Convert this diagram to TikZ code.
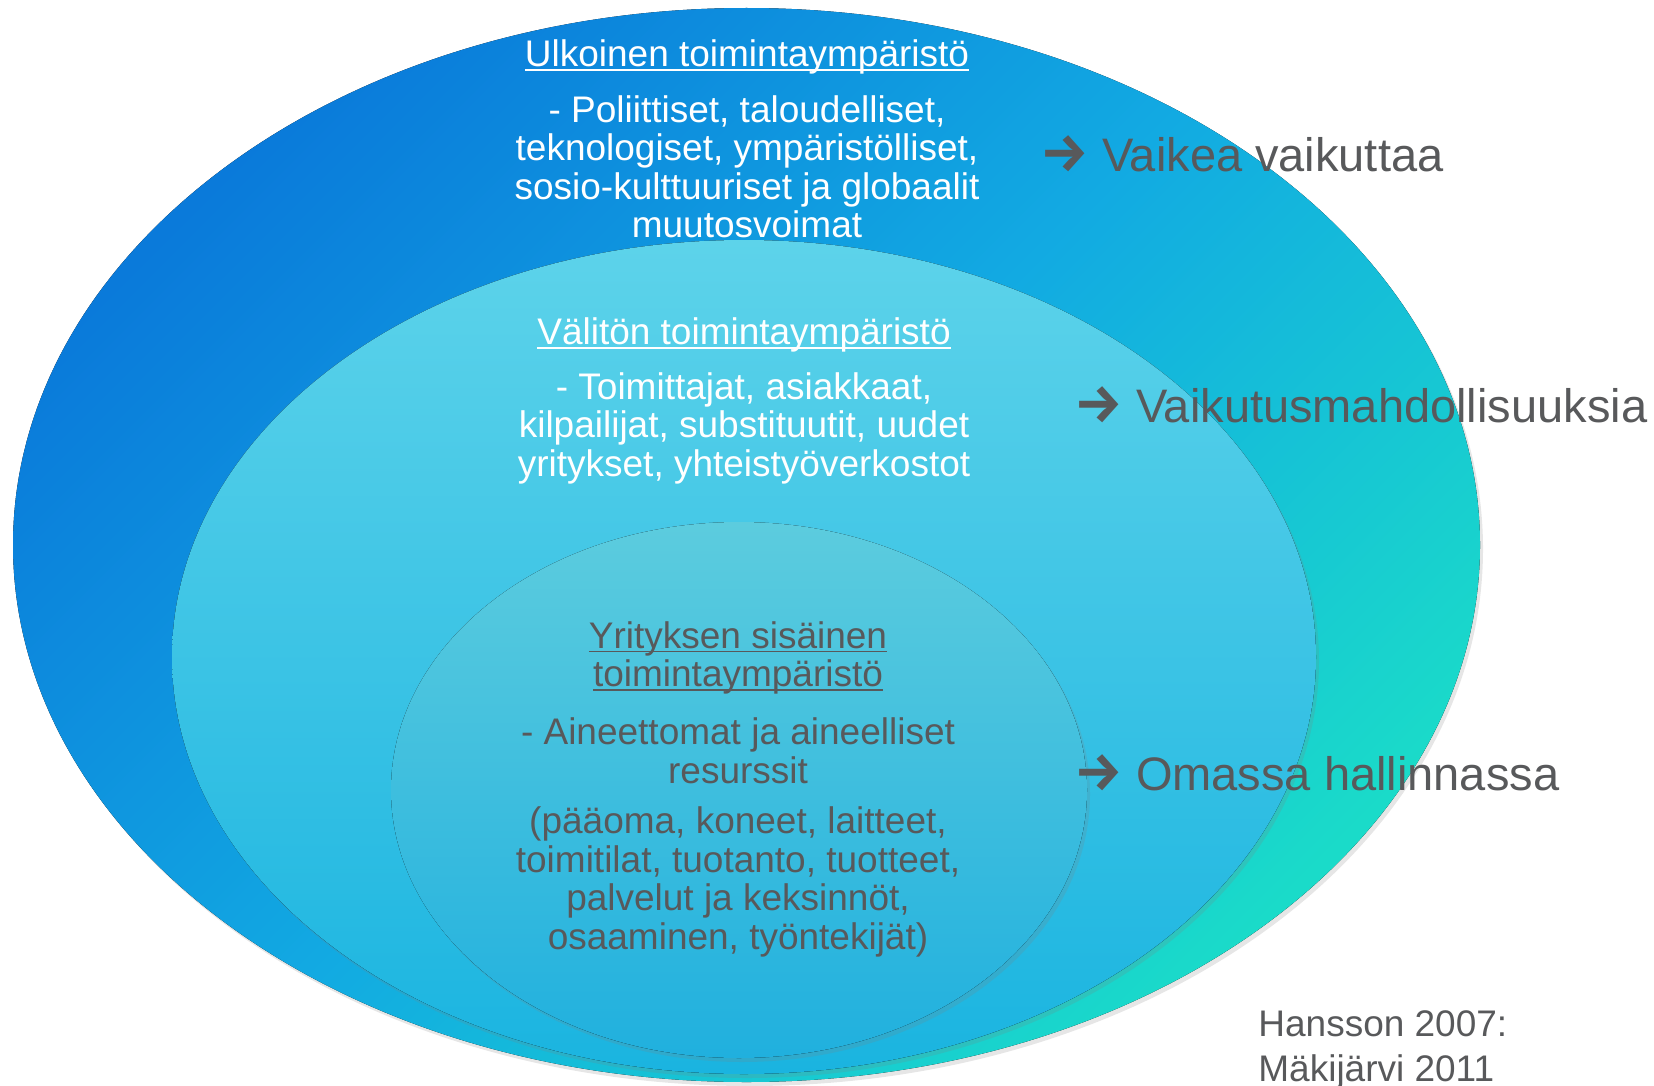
\documentclass[tikz,border=0pt]{standalone}
\usepackage{fontspec}
\setmainfont{Liberation Sans}
\newfontfamily\nuolifont{Fira Sans}
\usetikzlibrary{shadows}

\definecolor{ulkoTop}{HTML}{0A7ADA}
\definecolor{ulkoMid}{HTML}{12AAE2}
\definecolor{ulkoBot}{HTML}{1ADBC9}
\definecolor{valiTop}{HTML}{5DD3EA}
\definecolor{valiBot}{HTML}{1AB4E0}
\definecolor{sisaTop}{HTML}{5CCCDE}
\definecolor{sisaBot}{HTML}{20B0DE}
\definecolor{harmaa}{HTML}{58595B}

\newsavebox{\ulbox}
\newcommand{\ulin}[1]{\sbox{\ulbox}{#1}\rlap{\rule[-2pt]{\wd\ulbox}{0.7pt}}\usebox{\ulbox}}
\newcommand{\nuoli}{{\nuolifont\bfseries\fontsize{27}{28}\selectfont →}}

\begin{document}
\begin{tikzpicture}[x=0.5pt,y=-0.5pt,
    varjo/.style={drop shadow={opacity=0.2,shadow xshift=1.5pt,shadow yshift=-2pt}},
    teksti/.style={align=center,inner sep=0pt,font=\fontsize{18.5}{19.25}\selectfont},
    valkoinen/.style={teksti,text=white},
    tumma/.style={teksti,text=harmaa},
    vaikutus/.style={anchor=base west,inner sep=0pt,text=harmaa,font=\fontsize{23.5}{28}\selectfont}]

      \useasboundingbox (0,0) rectangle (1654,1086);

      % Ellipses
      \fill[varjo,top color=ulkoTop,bottom color=ulkoBot,middle color=ulkoMid,shading angle=45]
        (746.5,545) ellipse [x radius=733.5, y radius=537];
      \fill[varjo,top color=valiTop,bottom color=valiBot]
        (744,657) ellipse [x radius=572, y radius=417];
      \fill[varjo,top color=sisaTop,bottom color=sisaBot]
        (739,790) ellipse [x radius=348, y radius=268];

      % Ulkoinen
      \node[valkoinen] (ulkoOtsikko) at (747,57) {\ulin{Ulkoinen toimintaympäristö}};
      \node[valkoinen] (ulkoTeksti) at (747,167) {- Poliittiset, taloudelliset,\\teknologiset, ympäristölliset,\\sosio-kulttuuriset ja globaalit\\muutosvoimat};

      % Välitön
      \node[valkoinen] (valiOtsikko) at (744,335) {\ulin{Välitön toimintaympäristö}};
      \node[valkoinen] (valiTeksti) at (744,428) {- Toimittajat, asiakkaat,\\kilpailijat, substituutit, uudet\\yritykset, yhteistyöverkostot};

      % Sisäinen
      \node[tumma] (sisaOtsikko) at (738,658) {\ulin{Yrityksen sisäinen}\\\ulin{toimintaympäristö}};
      \node[tumma] (sisaTeksti) at (738,751) {- Aineettomat ja aineelliset\\resurssit};
      \node[tumma] (sisaLista) at (738,882) {(pääoma, koneet, laitteet,\\toimitilat, tuotanto, tuotteet,\\palvelut ja keksinnöt,\\osaaminen, työntekijät)};

      % Vaikutus
      \node[vaikutus] (vaikea) at (1040,171) {\nuoli{} Vaikea vaikuttaa};
      \node[vaikutus] (mahd) at (1074,422) {\nuoli{} Vaikutusmahdollisuuksia};
      \node[vaikutus] (oma) at (1074,790) {\nuoli{} Omassa hallinnassa};

      % Lähde
      \node[anchor=north west,inner sep=0pt,align=left,text=harmaa,font=\fontsize{18.5}{22.5}\selectfont]
        (lahde) at (1258,1010) {Hansson 2007:\\Mäkijärvi 2011};

\end{tikzpicture}
\end{document}
